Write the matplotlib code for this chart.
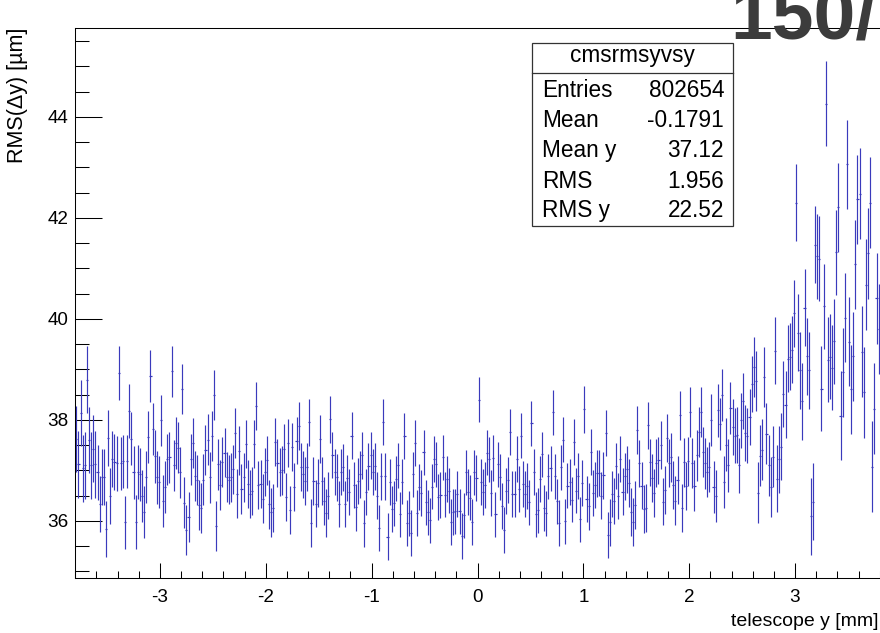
import numpy as np
import matplotlib
matplotlib.use("Agg")
import matplotlib.pyplot as plt
from matplotlib.patches import Rectangle
from matplotlib.lines import Line2D
from matplotlib.ticker import MultipleLocator

plt.rcParams['font.family'] = ['Liberation Sans', 'DejaVu Sans']
plt.rcParams['axes.unicode_minus'] = False

# Profile of RMS(dy) versus telescope y: 0.02 mm bins from -3.8 mm to 3.8 mm
bin_width = 0.02
x_low, x_high = -3.8, 3.8

rms_a = [37.62, 37.12, 38.14, 37.04, 37.10, 38.80, 37.60, 37.10, 37.43, 37.12,
         36.96, 36.34, 36.87, 36.87, 35.84, 37.64, 36.49, 37.23, 37.17, 37.14,
         38.93, 37.14, 37.18, 35.97, 37.18, 38.18, 37.63, 36.96, 35.98, 36.97,
         36.92, 36.49, 36.18, 36.87, 37.66, 38.87, 37.82, 37.28, 36.86, 36.77,
         37.99, 36.39, 36.67, 37.22, 37.26, 38.96, 37.10, 37.54, 37.45, 36.96,
         38.61, 36.36, 35.82, 36.08, 37.22, 37.54, 36.89, 36.81, 36.32, 36.26,
         36.82, 37.40, 37.61, 36.86, 37.68, 38.49, 35.90, 37.12, 36.71, 37.17,
         37.35, 36.87, 36.82, 36.86, 37.02, 37.74, 36.54]
rms_b = [37.39, 36.63, 36.86, 37.52, 36.73, 36.53, 36.59, 37.52, 38.28, 36.71,
         36.73, 36.44, 36.97, 37.20, 36.33, 36.17, 36.26, 37.56, 37.15, 36.97,
         37.00, 37.43, 36.47, 37.54, 36.22, 37.46, 36.67, 37.59, 37.88, 37.07,
         36.92, 36.79, 37.07, 37.95, 35.96, 36.79, 36.34, 36.75, 37.62, 36.79,
         36.39, 36.16, 36.50, 38.01, 37.31, 36.97, 36.86, 36.34, 36.97, 37.06,
         36.34, 36.85, 36.57, 37.69, 36.71, 36.27, 36.79, 36.92, 37.30, 35.95,
         36.57, 37.08, 37.30, 36.97, 37.08, 36.50, 35.86, 36.88, 37.96, 36.88,
         35.69, 36.77, 36.24, 36.35, 36.84, 37.10, 36.13]
rms_c = [36.78, 37.68, 35.96, 36.15, 35.76, 36.92, 37.54, 36.16, 36.67, 36.55,
         37.36, 36.37, 36.17, 36.01, 36.68, 37.23, 37.12, 36.47, 36.51, 37.26,
         36.52, 36.83, 36.60, 35.98, 36.18, 36.19, 36.53, 36.19, 35.70, 36.11,
         36.96, 36.57, 36.46, 35.98, 36.96, 36.85, 38.40, 36.77, 36.57, 36.71,
         37.35, 37.22, 36.55, 37.25, 36.13, 37.12, 36.87, 36.30, 35.82, 36.59,
         36.81, 37.76, 36.53, 36.53, 37.23, 36.63, 37.69, 36.73, 36.53, 36.69,
         36.37, 37.93, 36.97, 36.13, 36.21, 36.83, 37.32, 36.26, 36.15, 36.88,
         37.04, 38.15, 36.88, 36.39, 35.96, 37.06]
rms_d = [37.61, 35.99, 36.70, 36.77, 36.42, 37.56, 36.60, 36.89, 36.03, 36.75,
         38.21, 36.43, 36.29, 37.36, 36.55, 36.71, 36.94, 36.95, 36.50, 36.90,
         37.74, 35.72, 35.97, 36.53, 36.39, 37.09, 36.49, 37.23, 36.58, 36.88,
         37.02, 36.75, 36.18, 35.98, 36.32, 37.80, 37.14, 36.70, 36.24, 36.26,
         37.89, 37.16, 36.85, 36.55, 37.15, 37.20, 37.50, 36.38, 36.61, 37.64,
         37.15, 37.26, 36.71, 36.40, 36.81, 38.09, 36.26, 37.16, 36.69, 37.18,
         38.16, 37.15, 36.70, 37.30, 37.76, 38.16, 37.36, 37.14, 36.97, 37.07,
         38.00, 36.67, 36.49, 38.19, 37.92, 38.49, 36.77]
rms_e = [37.51, 37.10, 38.24, 37.86, 37.69, 37.70, 37.10, 37.99, 38.38, 37.74,
         37.69, 38.06, 38.71, 39.05, 38.77, 36.56, 37.29, 37.41, 38.85, 37.73,
         37.10, 36.67, 37.27, 39.37, 36.84, 37.22, 37.47, 38.51, 38.30, 39.21,
         39.25, 39.39, 40.11, 42.30, 39.73, 38.98, 38.37, 40.22, 39.26, 38.98,
         36.09, 36.38, 41.47, 41.24, 41.19, 38.62, 40.25, 44.26, 39.19, 39.25,
         39.03, 39.56, 41.32, 42.21, 38.08, 38.94, 40.02, 43.06, 39.55, 38.61,
         39.26, 41.08, 42.37, 42.48, 39.35, 38.55, 40.68, 41.30, 42.30, 37.07,
         38.22, 40.41, 39.80]
rms_um = np.array(rms_a + rms_b + rms_c + rms_d + rms_e)

# Error on the RMS, one value per 0.2 mm (10 bins)
err_per_02mm = [0.66, 0.55, 0.53, 0.52, 0.51, 0.50, 0.50, 0.49, 0.48, 0.48,
                0.47, 0.47, 0.46, 0.46, 0.46, 0.45, 0.45, 0.45, 0.45, 0.45,
                0.45, 0.45, 0.45, 0.45, 0.46, 0.46, 0.47, 0.47, 0.48, 0.50,
                0.52, 0.55, 0.60, 0.66, 0.76, 0.84, 0.88, 0.90]

stats_title = "cmsrmsyvsy"
stats_labels = ["Entries", "Mean", "Mean y", "RMS", "RMS y"]
stats_values = ["802654", "-0.1791", "37.12", "1.956", "22.52"]
plot_title = "150/"

x_centers = x_low + bin_width * (np.arange(len(rms_um)) + 0.5)
yerr = np.repeat(err_per_02mm, 10)[:len(rms_um)]

W, H = 880, 633
fig = plt.figure(figsize=(W / 100, H / 100), dpi=100)


def fx(px):
    return px / W


def fy(py):
    return 1 - py / H


ax = fig.add_axes([fx(75.3), fy(578), fx(879.7) - fx(75.3), fy(28) - fy(578)])
ax.errorbar(x_centers, rms_um, xerr=bin_width / 2, yerr=yerr, fmt='none',
            ecolor='#3a3abc', elinewidth=0.85, capsize=0)
ax.set_xlim(x_low, x_high)
ax.set_ylim(34.87, 45.76)

ax.xaxis.set_major_locator(MultipleLocator(1))
ax.xaxis.set_minor_locator(MultipleLocator(0.2))
ax.yaxis.set_major_locator(MultipleLocator(2))
ax.yaxis.set_minor_locator(MultipleLocator(0.5))
ax.tick_params(axis='x', which='major', direction='in', length=11, width=0.75,
               labelsize=13.6, pad=8)
ax.tick_params(axis='x', which='minor', direction='in', length=5.4, width=0.75)
ax.tick_params(axis='y', which='major', direction='in', length=19.5, width=0.75,
               labelsize=13.6, pad=5)
ax.tick_params(axis='y', which='minor', direction='in', length=10, width=0.75)
ax.spines['right'].set_visible(False)
for side in ('left', 'bottom', 'top'):
    ax.spines[side].set_linewidth(0.75)

fig.text(fx(878), fy(622), "telescope y [mm]", ha='right', va='center', fontsize=14)
fig.text(fx(18), fy(28), "RMS(\u0394y) [\u00b5m]", rotation=90, ha='center', va='top',
         fontsize=15.5)

# statistics box
box_l, box_r, box_t, box_b = 532, 733, 43, 226
fig.add_artist(Rectangle((fx(box_l), fy(box_b)), fx(box_r) - fx(box_l), fy(box_t) - fy(box_b),
                         transform=fig.transFigure, facecolor='white', edgecolor='#333333',
                         linewidth=0.9, zorder=5))
fig.add_artist(Line2D([fx(box_l), fx(box_r)], [fy(72.7), fy(72.7)], transform=fig.transFigure,
                      color='#333333', linewidth=0.9, zorder=6))
fig.text(fx(632), fy(61.7), stats_title, ha='center', va='baseline', fontsize=16.3, zorder=7)
row_baselines = [96.7, 126.7, 157.3, 188.3, 216.7]
for lab, val, yb in zip(stats_labels, stats_values, row_baselines):
    fig.text(fx(542), fy(yb), lab, ha='left', va='baseline', fontsize=16.3, zorder=7)
    fig.text(fx(724), fy(yb), val, ha='right', va='baseline', fontsize=16.3, zorder=7)

fig.text(fx(730), fy(38.5), plot_title, ha='left', va='baseline', fontsize=54,
         fontweight='bold', color='#3c3c3c')

fig.savefig("out.png", dpi=100)
